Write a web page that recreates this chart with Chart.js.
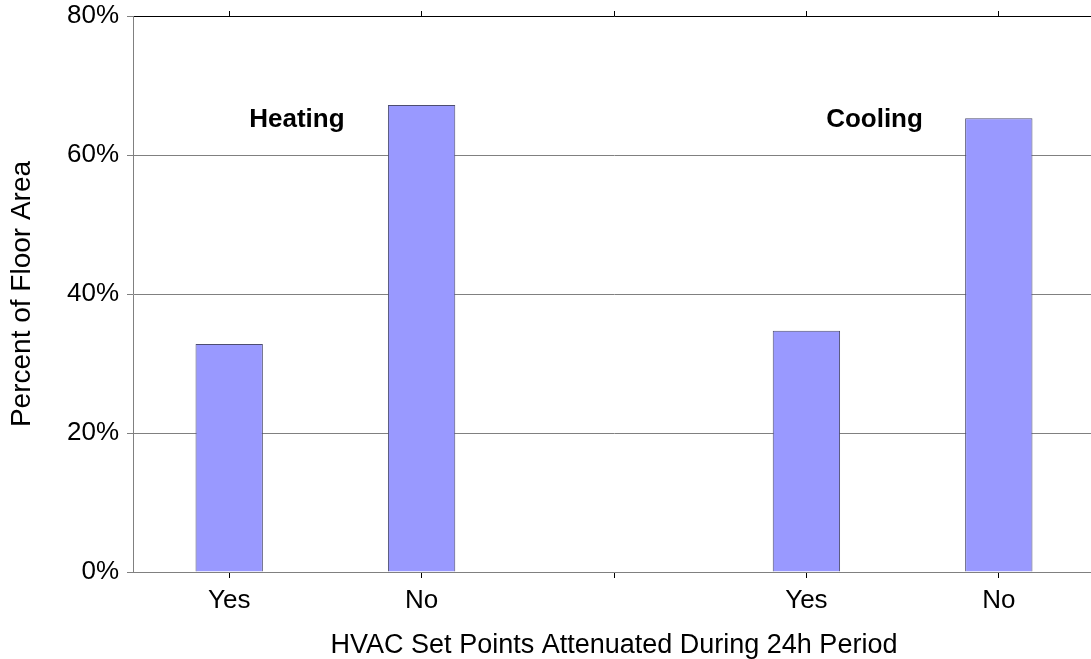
<!DOCTYPE html>
<html>
<head>
<meta charset="utf-8">
<script src="https://cdn.jsdelivr.net/npm/chart.js@4"></script>
<style>
html,body{margin:0;padding:0;background:#fff;overflow:hidden;}
</style>
</head>
<body>
<canvas id="floorChart" width="1100" height="659"></canvas>
<script>
const categories = ['Yes', 'No', '', 'Yes', 'No'];
const floorAreaPct = [32.8, 67.2, null, 34.7, 65.3];
const yTicks = [0, 20, 40, 60, 80];
const groupNames = ['Heating', 'Cooling'];
const groupPos = [0.352, 3.354];
const groupY = 65;

const fontFamily = '"Liberation Sans", Arial, sans-serif';

const groupLabels = {
id: 'groupLabels',
afterDatasetsDraw(chart) {
const ctx = chart.ctx;
const xs = chart.scales.x;
const ys = chart.scales.y;
ctx.save();
ctx.font = 'bold 26px ' + fontFamily;
ctx.fillStyle = '#000';
ctx.textAlign = 'center';
ctx.textBaseline = 'middle';
groupNames.forEach((name, i) => {
ctx.fillText(name, xs.getPixelForValue(groupPos[i]), ys.getPixelForValue(groupY));
});
ctx.restore();
}
};

const ctx = document.getElementById('floorChart').getContext('2d');

new Chart(ctx, {
type: 'bar',
data: {
labels: categories,
datasets: [{
data: floorAreaPct,
backgroundColor: '#9999FF',
borderColor: '#4d4d70',
borderWidth: 1,
categoryPercentage: 1,
barPercentage: 0.35
}]
},
options: {
responsive: false,
animation: false,
layout: { padding: { top: 0, left: 0, right: 5, bottom: 0 } },
plugins: { legend: { display: false }, tooltip: { enabled: false } },
scales: {
x: {
position: 'bottom',
offset: true,
afterFit(axis) { axis.height = 87; },
grid: { offset: false, drawOnChartArea: false, tickLength: 6, color: '#000' },
border: { color: '#808080', width: 1 },
ticks: { color: '#000', padding: 7, font: { family: fontFamily, size: 26 } },
title: {
display: true,
text: 'HVAC Set Points Attenuated During 24h Period',
color: '#000',
padding: { top: 0, bottom: -3 },
font: { family: fontFamily, size: 27 }
}
},
x2: {
position: 'top',
type: 'category',
labels: categories,
offset: true,
afterFit(axis) { axis.height = 16; },
grid: { offset: false, drawOnChartArea: false, tickLength: 5, color: '#000' },
border: { color: '#000', width: 1 },
ticks: { display: false }
},
y: {
min: 0,
max: 80,
afterBuildTicks(axis) { axis.ticks = yTicks.map(v => ({ value: v })); },
afterFit(axis) {
axis.width = 133;
axis.paddingTop = 0;
axis.paddingBottom = 0;
},
grid: { color: '#808080', tickLength: 6 },
border: { color: '#808080', width: 1 },
ticks: {
color: '#000',
padding: 8,
callback: v => v + '%',
font: { family: fontFamily, size: 26 }
},
title: {
display: true,
text: 'Percent of Floor Area',
color: '#000',
padding: { top: 5, bottom: 0 },
font: { family: fontFamily, size: 28 }
}
}
}
},
plugins: [groupLabels]
});
</script>
</body>
</html>
